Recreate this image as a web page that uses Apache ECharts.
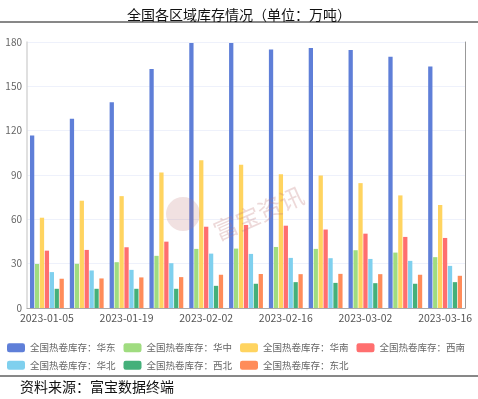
<!DOCTYPE html>
<html>
<head>
<meta charset="utf-8">
<script src="https://cdn.jsdelivr.net/npm/echarts@6/dist/echarts.min.js"></script>
<style>
html, body { margin: 0; padding: 0; background: #fff; }
#chart { width: 478px; height: 399px; }
</style>
</head>
<body>
<div id="chart"></div>
<script>
// 日期
var dates = ["2023-01-05", "2023-01-12", "2023-01-19", "2023-01-26", "2023-02-02", "2023-02-09",
    "2023-02-16", "2023-02-23", "2023-03-02", "2023-03-09", "2023-03-16"];
var seriesNames = ["全国热卷库存：华东", "全国热卷库存：华中", "全国热卷库存：华南", "全国热卷库存：西南",
    "全国热卷库存：华北", "全国热卷库存：西北", "全国热卷库存：东北"];
var huadong = [116.7, 128.1, 139.3, 161.8, 179.4, 179.4, 174.9, 176.0, 174.6, 170.1, 163.4];
var huazhong = [29.8, 29.9, 31.0, 35.3, 40.0, 40.2, 41.3, 40.0, 39.1, 37.5, 34.4];
var huanan = [61.1, 72.6, 75.7, 91.7, 100.0, 96.9, 90.5, 89.6, 84.5, 76.2, 69.7];
var xinan = [38.8, 39.3, 41.1, 44.9, 55.0, 56.2, 55.7, 53.1, 50.3, 48.1, 47.4];
var huabei = [24.3, 25.4, 25.8, 30.3, 36.8, 36.6, 33.9, 33.7, 33.2, 31.9, 28.5];
var xibei = [13.0, 13.0, 13.0, 13.0, 15.0, 16.4, 17.5, 17.0, 16.8, 16.4, 17.5];
var dongbei = [19.8, 20.0, 20.7, 20.9, 22.5, 23.0, 22.9, 23.1, 22.9, 22.5, 21.8];
var colors = ["#5f7fd8", "#a0dc80", "#ffd460", "#ff6f6f", "#7fd0ee", "#44b07a", "#ff8c5a"];

var allData = [huadong, huazhong, huanan, xinan, huabei, xibei, dongbei];
var series = [];
for (var i = 0; i < allData.length; i++) {
    series.push({
        name: seriesNames[i],
        type: "bar",
        data: allData[i],
        barGap: "15%",
        barCategoryGap: "15%"
    });
}

var myChart = echarts.init(document.getElementById("chart"));
myChart.setOption({
    animation: false,
    color: colors,
    textStyle: { fontFamily: "Noto Sans CJK SC" },
    title: {
        text: "全国各区域库存情况（单位：万吨）",
        left: "center",
        top: 3,
        textStyle: { fontSize: 14, fontWeight: "normal", color: "#111" }
    },
    legend: {
        left: 2,
        top: 338,
        width: 474,
        itemWidth: 18,
        itemHeight: 9,
        itemGap: 8,
        icon: "roundRect",
        textStyle: { fontSize: 9.5, color: "#666" },
        data: seriesNames
    },
    grid: { left: 27, right: 13, top: 42, bottom: 91 },
    xAxis: {
        type: "category",
        data: dates,
        axisLine: { lineStyle: { color: "#aaa" } },
        axisTick: { lineStyle: { color: "#aaa" } },
        axisLabel: { interval: 1, fontSize: 10.5, color: "#555", margin: 5 }
    },
    yAxis: [{
        type: "value",
        min: 0,
        max: 180,
        interval: 30,
        axisLine: { show: true, lineStyle: { color: "#d6d6d6", width: 1.5 } },
        axisLabel: { fontSize: 10, color: "#666", margin: 5 },
        splitLine: { lineStyle: { color: "#eef1fb" } }
    }, {
        type: "value",
        min: 0,
        max: 180,
        interval: 30,
        position: "right",
        axisLine: { show: true, lineStyle: { color: "#999" } },
        axisLabel: { show: false },
        splitLine: { show: false }
    }],
    series: series,
    graphic: [
        { type: "line", shape: { x1: 0, y1: 22, x2: 478, y2: 22 }, style: { stroke: "#111", lineWidth: 1 } },
        { type: "line", shape: { x1: 0, y1: 376, x2: 478, y2: 376 }, style: { stroke: "#111", lineWidth: 1 } },
        {
            type: "text", left: 20, top: 380,
            style: { text: "资料来源：富宝数据终端", fontSize: 14, fill: "#111", fontFamily: "Noto Sans CJK SC" }
        },
        {
            type: "circle", shape: { cx: 183, cy: 214, r: 17 },
            style: { fill: "rgba(190,120,120,0.22)" }, z: 10
        },
        {
            type: "text", x: 210, y: 222, rotation: Math.PI / 7.5,
            style: { text: "富宝资讯", fontSize: 24, fill: "rgba(190,120,120,0.28)", fontFamily: "Noto Sans CJK SC" },
            z: 10
        }
    ]
});
</script>
</body>
</html>
